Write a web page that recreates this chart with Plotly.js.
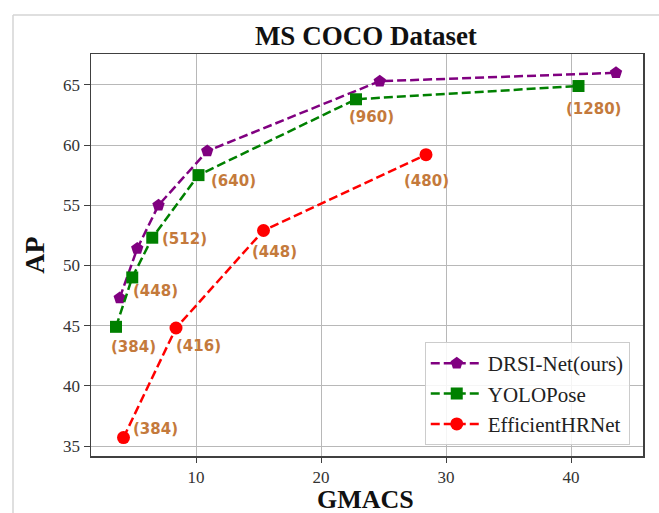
<!DOCTYPE html>
<html>
<head>
<meta charset="utf-8">
<script src="https://cdn.plot.ly/plotly-3.0.1.min.js"></script>
<style>html,body{margin:0;padding:0;background:#fff;}#chart{width:659px;height:513px;}</style>
</head>
<body>
<div id="chart"></div>
<script>
// ---- data ----
const drsiX = [3.9, 5.3, 7.0, 10.9, 24.7, 43.6];
const drsiY = [47.3, 51.4, 55.0, 59.5, 65.3, 66.0];
const yoloX = [3.6, 4.9, 6.5, 10.2, 22.8, 40.6];
const yoloY = [44.9, 49.0, 52.3, 57.5, 63.8, 64.9];
const effX = [4.2, 8.4, 15.4, 28.4];
const effY = [35.7, 44.8, 52.9, 59.2];
const yoloRes = [384, 448, 512, 640, 960, 1280];
const effRes = [384, 416, 448, 480];
const seriesNames = ["DRSI-Net(ours)", "YOLOPose", "EfficientHRNet"];
const xTicks = [10, 20, 30, 40];
const yTicks = [35, 40, 45, 50, 55, 60, 65];

// label pixel offsets (style)
const yoloOff = [[17,-20],[23,-14],[32,-1],[35,-6],[15,-18],[15,-23]];
const effOff = [[32,9],[22,-18],[11,-21],[0,-26]];

const lineStyle = (c) => ({color: c, width: 2.5, dash: "9px,4px"});
const traces = [
  {x: drsiX, y: drsiY, name: seriesNames[0], mode: "lines+markers",
   line: lineStyle("#800080"), marker: {symbol: "pentagon", size: 13, color: "#800080"}},
  {x: yoloX, y: yoloY, name: seriesNames[1], mode: "lines+markers",
   line: lineStyle("#008000"), marker: {symbol: "square", size: 12, color: "#008000"}},
  {x: effX, y: effY, name: seriesNames[2], mode: "lines+markers",
   line: lineStyle("#ff0000"), marker: {symbol: "circle", size: 13, color: "#ff0000"}}
];

const labelFont = {family: "DejaVu Sans", size: 15, color: "#c47a3c"};
const annotations = [];
yoloRes.forEach((r, i) => annotations.push({
  x: yoloX[i], y: yoloY[i], text: "<b>(" + r + ")</b>", showarrow: false,
  xshift: yoloOff[i][0], yshift: yoloOff[i][1], font: labelFont
}));
effRes.forEach((r, i) => annotations.push({
  x: effX[i], y: effY[i], text: "<b>(" + r + ")</b>", showarrow: false,
  xshift: effOff[i][0], yshift: effOff[i][1], font: labelFont
}));
// x axis title placed as annotation for precise vertical position
annotations.push({
  xref: "paper", yref: "paper", x: 0.497, y: (456 - 499.5) / 402, xanchor: "center", yanchor: "middle",
  text: "<b>GMACS</b>", showarrow: false,
  font: {family: "Liberation Serif", size: 26, color: "#111"}
});

const axisCommon = {
  showline: true, mirror: true, linecolor: "#404040", linewidth: 1.5,
  showgrid: true, gridcolor: "#b8b8b8", gridwidth: 1,
  ticks: "outside", ticklen: 6, tickcolor: "#404040", tickwidth: 1,
  zeroline: false,
  tickfont: {family: "Liberation Serif", size: 17, color: "#333"}
};

const layout = {
  width: 659, height: 513,
  margin: {l: 91, r: 16, t: 54, b: 57},
  paper_bgcolor: "#fff", plot_bgcolor: "#fff",
  title: {text: "<b>MS COCO Dataset</b>", xref: "paper", x: 0.498, xanchor: "center",
          yref: "container", y: 1 - 36/513, yanchor: "middle",
          font: {family: "Liberation Serif", size: 27, color: "#111"}},
  xaxis: Object.assign({}, axisCommon, {
    range: [1.6, 45.76], tickvals: xTicks, ticklen: 5
  }),
  yaxis: Object.assign({}, axisCommon, {
    range: [34.17, 67.56], tickvals: yTicks,
    title: {text: "<b>AP</b>", standoff: 10, font: {family: "Liberation Serif", size: 28, color: "#111"}}
  }),
  legend: {x: 0.976, xanchor: "right", y: 0.027, yanchor: "bottom",
           itemwidth: 52,
           bgcolor: "rgba(255,255,255,0.85)", bordercolor: "#cccccc", borderwidth: 1,
           font: {family: "Liberation Serif", size: 21, color: "#222"}},
  annotations: annotations,
  shapes: [
    {type: "line", xref: "paper", yref: "paper", x0: (13-91)/552, x1: 1.2, y0: (456-15)/402, y1: (456-15)/402,
     line: {color: "#d4d4d4", width: 1.5}},
    {type: "line", xref: "paper", yref: "paper", x0: (13-91)/552, x1: (13-91)/552, y0: (456-15)/402, y1: -0.3,
     line: {color: "#d4d4d4", width: 1.5}}
  ],
  showlegend: true
};

Plotly.newPlot("chart", traces, layout, {displayModeBar: false, staticPlot: true});
</script>
</body>
</html>
